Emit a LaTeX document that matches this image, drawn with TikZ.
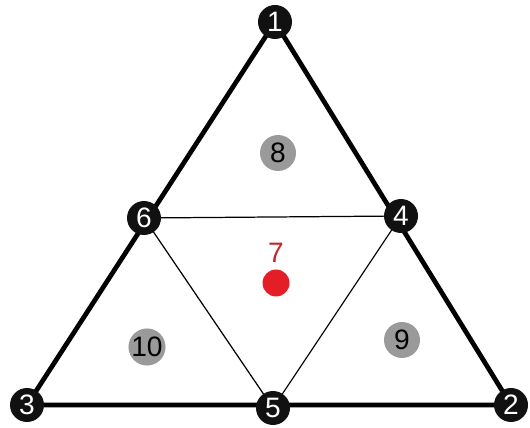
\documentclass[tikz,border=0pt]{standalone}
\usepackage{fontspec}
\setmainfont{Liberation Sans}
\usetikzlibrary{positioning}
\definecolor{vertexF}{HTML}{111111}
\definecolor{faceF}{HTML}{9A9A9A}
\definecolor{redDot}{HTML}{E41E26}
\definecolor{redText}{HTML}{C4262C}

\begin{document}
\begin{tikzpicture}[
    x=0.02cm,y=-0.02cm,
    font=\fontsize{16}{19}\selectfont,
    vtx/.style={circle,fill=vertexF,text=white,minimum size=0.68cm,inner sep=0pt},
    face/.style={circle,fill=faceF,text=black,minimum size=0.72cm,inner sep=0pt},
    outer/.style={line width=2.7pt,line join=round},
    inner/.style={line width=0.7pt},
]
\useasboundingbox (0,0) rectangle (530,428);

% corner and mid-edge vertices
\foreach \n/\x/\y in {1/275/22,2/511/405,3/27/405,4/401/216,5/273/408,6/144/218}
   \coordinate (p\n) at (\x,\y);

% triangles: outer (thick) and inner (thin)
\draw[outer] (p1) -- (p3) -- (p2) -- cycle;
\draw[inner] (p6) -- (p4) -- (p5) -- cycle;

\foreach \n in {1,...,6}
   \node[vtx] (v\n) at (p\n) {\n};

% face markers
\node[face] (f8)  at (278,153) {8};
\node[face] (f9)  at (402,340) {9};
\node[face] (f10) at (147,347) {10};

% centre face
\node[circle,fill=redDot,minimum size=0.54cm,inner sep=0pt] (f7) at (276,283) {};
\node[text=redText,above=0pt of f7] (t7) {7};

\end{tikzpicture}
\end{document}
